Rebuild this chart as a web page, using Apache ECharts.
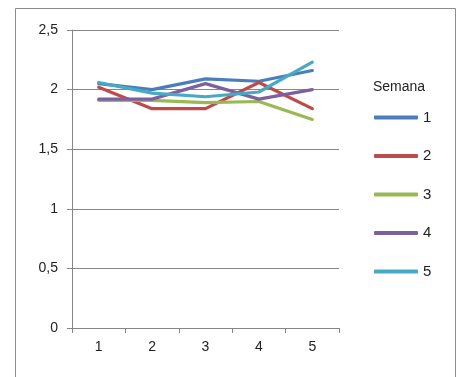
<!DOCTYPE html>
<html>
<head>
<meta charset="utf-8">
<script src="https://cdn.jsdelivr.net/npm/echarts@6/dist/echarts.min.js"></script>
<style>
  html, body { margin: 0; padding: 0; background: #fff; }
  #chart { width: 457px; height: 377px; }
</style>
</head>
<body>
<div id="chart"></div>
<script>
// Categories on the x axis
const categories = ['1', '2', '3', '4', '5'];

// One line per week
const seriesNames = ['1', '2', '3', '4', '5'];
const semana1 = [2.05, 2.00, 2.09, 2.07, 2.16];
const semana2 = [2.02, 1.84, 1.84, 2.06, 1.84];
const semana3 = [1.91, 1.91, 1.89, 1.90, 1.75];
const semana4 = [1.92, 1.92, 2.05, 1.92, 2.00];
const semana5 = [2.06, 1.97, 1.94, 1.98, 2.23];

// Value axis ticks
const yMin = 0;
const yMax = 2.5;
const yStep = 0.5;

const seriesData = [semana1, semana2, semana3, semana4, semana5];
const colors = ['#4A7EBB', '#BE4B48', '#98B954', '#7D60A0', '#46AAC5'];
const font = 'Liberation Sans, Arial, sans-serif';
const axisGray = '#868686';

const chart = echarts.init(document.getElementById('chart'));
chart.setOption({
  animation: false,
  color: colors,
  graphic: [{
    type: 'rect',
    silent: true,
    shape: { x: 15.5, y: 8.5, width: 440, height: 400 },
    style: { fill: 'none', stroke: '#8c8c8c', lineWidth: 1 }
  }],
  title: {
    text: 'Semana',
    left: 368,
    top: 75,
    textStyle: { fontFamily: font, fontSize: 14, fontWeight: 'normal', color: '#222' }
  },
  legend: {
    orient: 'vertical',
    left: 369,
    top: 105,
    icon: 'roundRect',
    itemWidth: 44,
    itemHeight: 4,
    itemGap: 23.5,
    data: seriesNames,
    textStyle: { fontFamily: font, fontSize: 15, color: '#222', padding: [0, 0, 0, 0] }
  },
  grid: { left: 72, right: 118, top: 30, bottom: 49 },
  xAxis: {
    type: 'category',
    data: categories,
    boundaryGap: true,
    axisLine: { show: true, lineStyle: { color: axisGray, width: 1 } },
    axisTick: { show: true, length: 5, lineStyle: { color: axisGray } },
    axisLabel: { fontFamily: font, fontSize: 14, color: '#222', margin: 12 },
    splitLine: { show: false }
  },
  yAxis: {
    type: 'value',
    min: yMin,
    max: yMax,
    interval: yStep,
    axisLine: { show: true, lineStyle: { color: axisGray, width: 1 } },
    axisTick: { show: true, length: 5, lineStyle: { color: axisGray } },
    axisLabel: {
      fontFamily: font, fontSize: 14, color: '#222', margin: 14,
      formatter: v => String(v).replace('.', ',')
    },
    splitLine: { show: true, lineStyle: { color: axisGray, width: 1 } }
  },
  series: seriesData.map((d, i) => ({
    name: seriesNames[i],
    type: 'line',
    data: d,
    symbol: 'none',
    lineStyle: { width: 3.2, color: colors[i], cap: 'round', join: 'round' },
    itemStyle: { color: colors[i] }
  }))
});
</script>
</body>
</html>
